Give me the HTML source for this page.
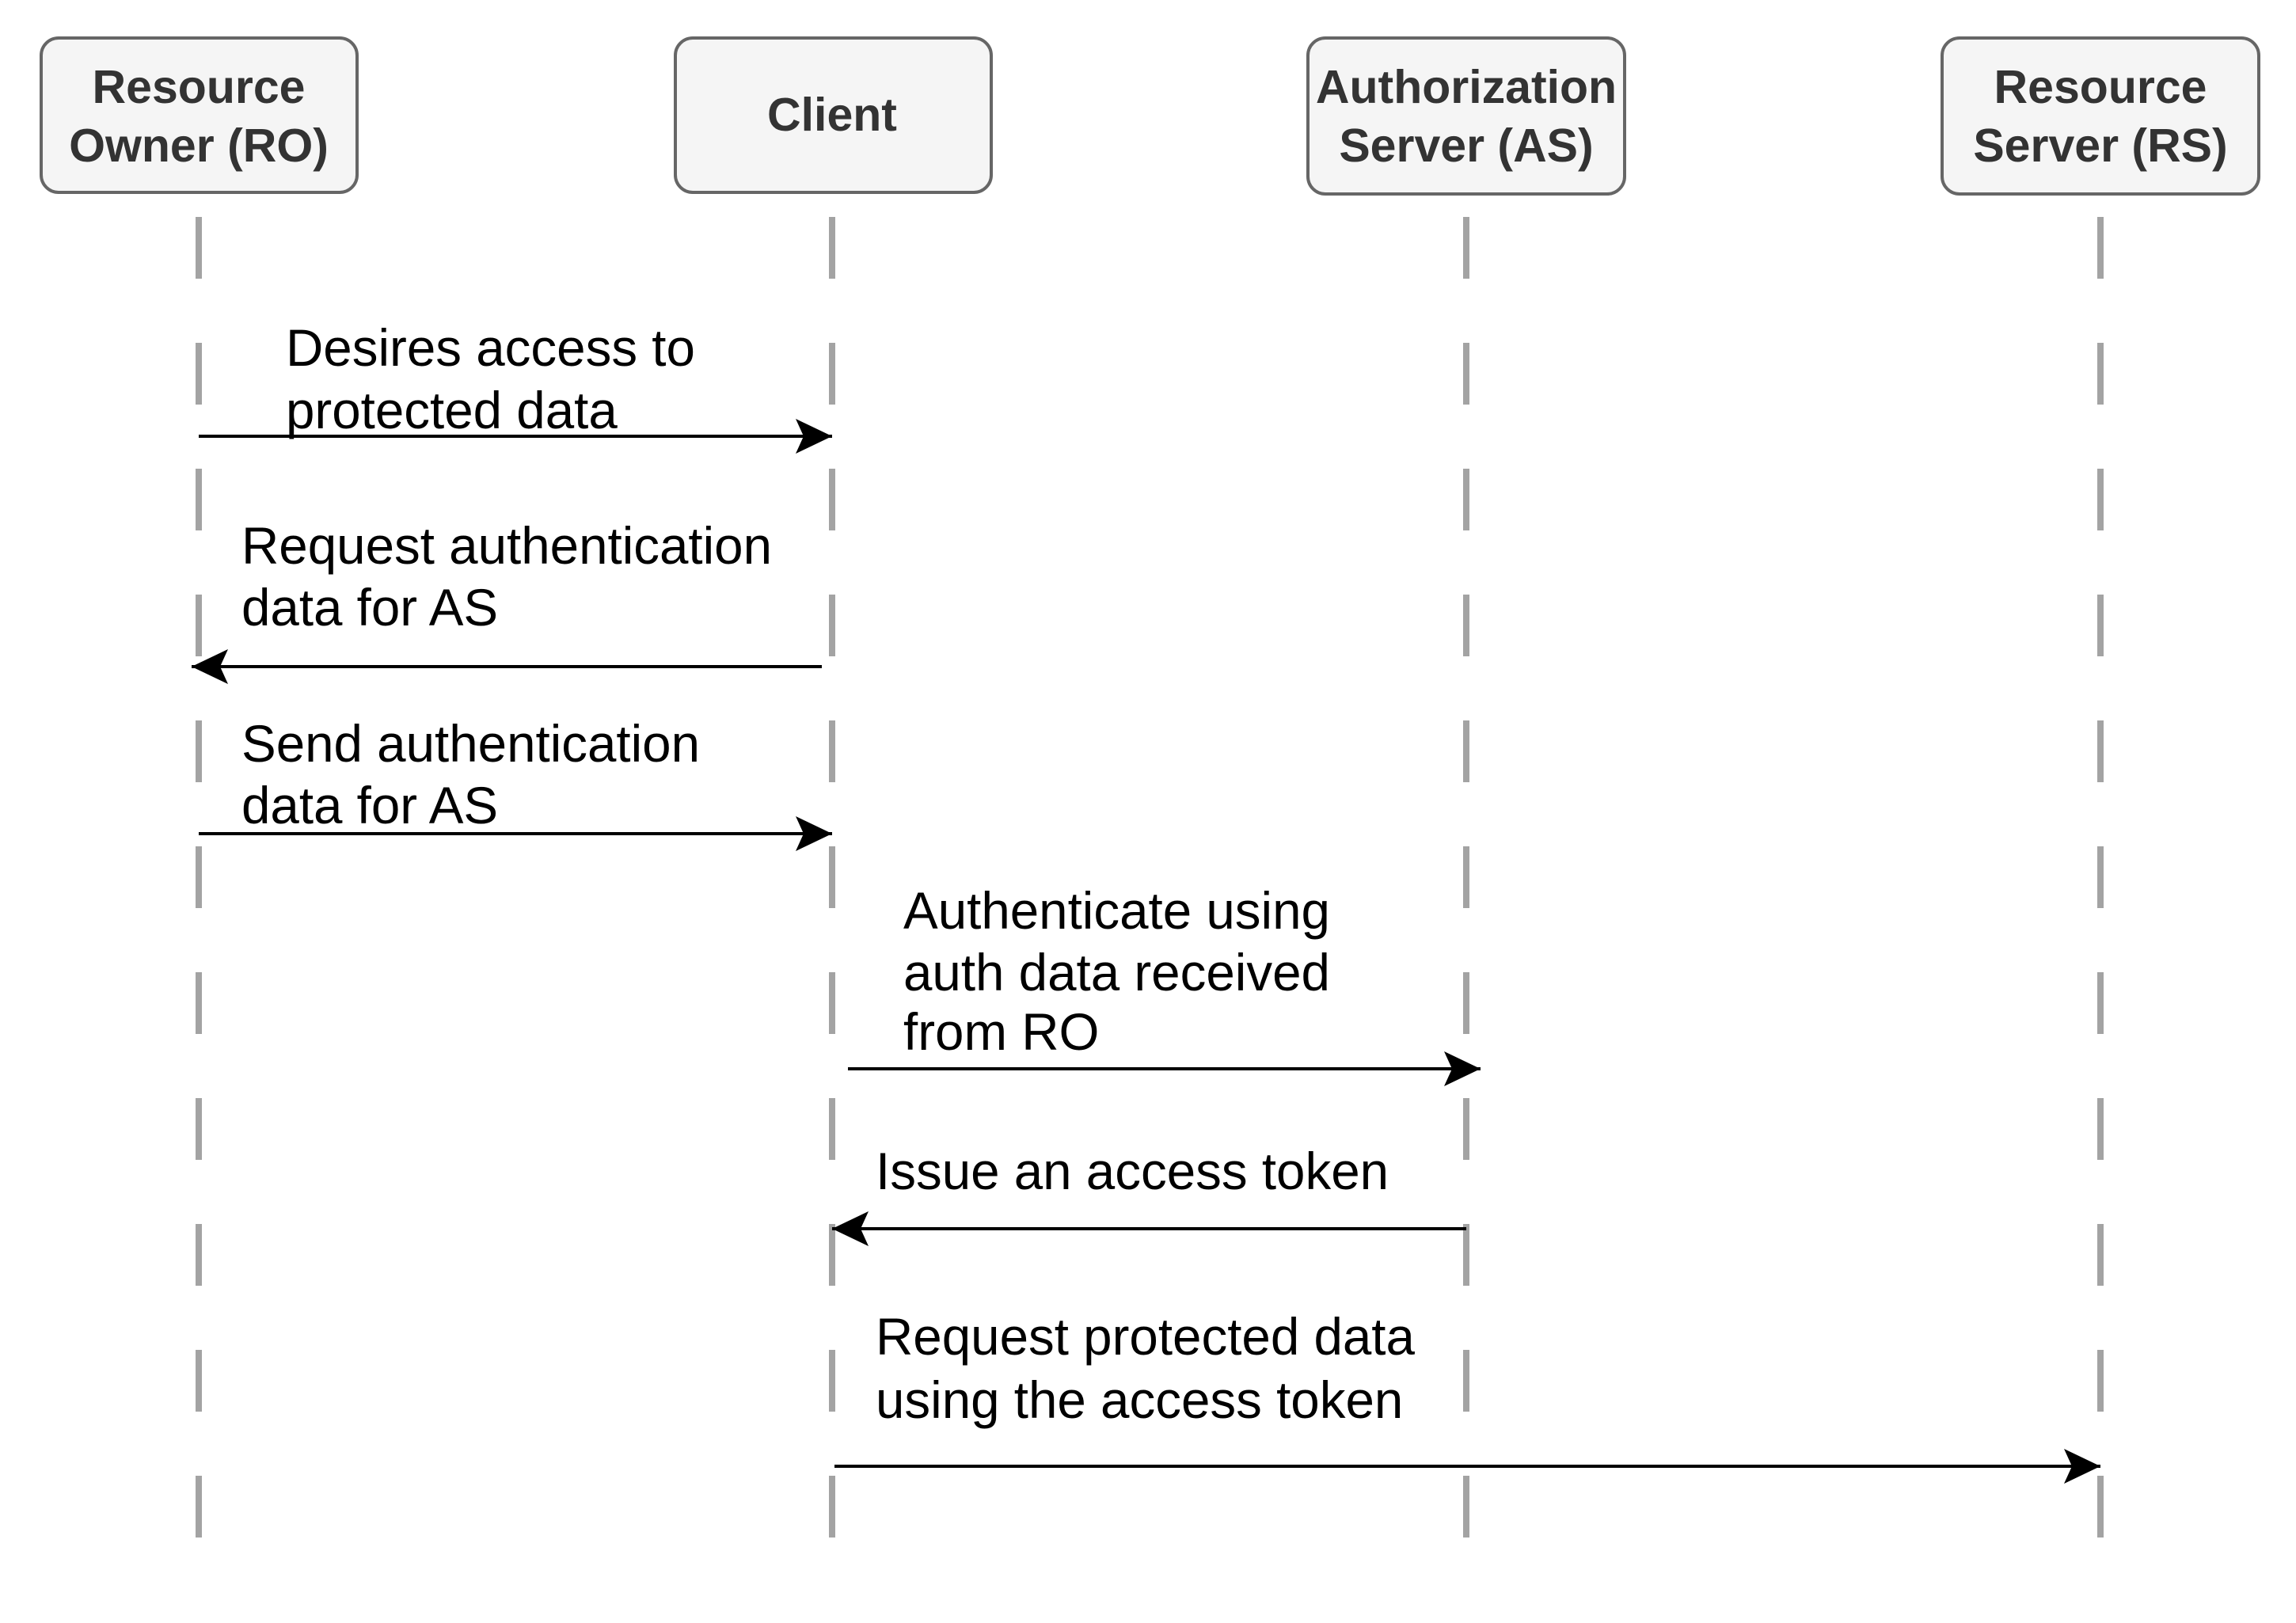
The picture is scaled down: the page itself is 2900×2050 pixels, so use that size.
<!DOCTYPE html>
<html><head><meta charset="utf-8"><style>
html,body{margin:0;padding:0;background:#fff;}
svg{display:block;}
.h{font-family:"Liberation Sans",Arial,sans-serif;font-weight:bold;font-size:59px;fill:#333;text-anchor:middle;}
.t{font-family:"Liberation Sans",Arial,sans-serif;font-size:65.5px;fill:#000;}
</style></head><body>
<svg width="2900" height="2050" viewBox="0 0 2900 2050" xmlns="http://www.w3.org/2000/svg">
<defs>
<marker id="a" markerUnits="userSpaceOnUse" markerWidth="50" markerHeight="50" viewBox="0 0 50 50" refX="46" refY="25" orient="auto">
<path d="M0,3 L46,25 L0,47 L10,25 Z" fill="#000"/>
</marker>
</defs>
<g stroke="#a3a3a3" stroke-width="8" stroke-dasharray="78 81">
<line x1="251" y1="274" x2="251" y2="1955"/>
<line x1="1051" y1="274" x2="1051" y2="1955"/>
<line x1="1852" y1="274" x2="1852" y2="1955"/>
<line x1="2653" y1="274" x2="2653" y2="1955"/>
</g>
<g fill="#f5f5f5" stroke="#666" stroke-width="4">
<rect x="52" y="48" width="399" height="195" rx="22"/>
<rect x="853" y="48" width="399" height="195" rx="22"/>
<rect x="1652" y="48" width="400" height="197" rx="22"/>
<rect x="2453" y="48" width="400" height="197" rx="22"/>
</g>
<text class="h" x="251" y="130">Resource</text>
<text class="h" x="251" y="204">Owner (RO)</text>
<text class="h" x="1051" y="165">Client</text>
<text class="h" x="1852" y="130">Authorization</text>
<text class="h" x="1852" y="204">Server (AS)</text>
<text class="h" x="2653" y="130">Resource</text>
<text class="h" x="2653" y="204">Server (RS)</text>
<g stroke="#000" stroke-width="4" fill="none" marker-end="url(#a)">
<line x1="251" y1="551" x2="1051" y2="551"/>
<line x1="1038" y1="842" x2="242" y2="842"/>
<line x1="251" y1="1053" x2="1051" y2="1053"/>
<line x1="1071" y1="1350" x2="1870" y2="1350"/>
<line x1="1852" y1="1552" x2="1051" y2="1552"/>
<line x1="1054" y1="1852" x2="2653" y2="1852"/>
</g>
<text class="t" x="361" y="462">Desires access to</text>
<text class="t" x="361" y="541">protected data</text>
<text class="t" x="305" y="712">Request authentication</text>
<text class="t" x="305" y="790">data for AS</text>
<text class="t" x="305" y="962">Send authentication</text>
<text class="t" x="305" y="1040">data for AS</text>
<text class="t" x="1141" y="1173">Authenticate using</text>
<text class="t" x="1141" y="1251">auth data received</text>
<text class="t" x="1141" y="1326">from RO</text>
<text class="t" x="1106" y="1502">Issue an access token</text>
<text class="t" x="1106" y="1711">Request protected data</text>
<text class="t" x="1106" y="1791">using the access token</text>
</svg>
</body></html>
